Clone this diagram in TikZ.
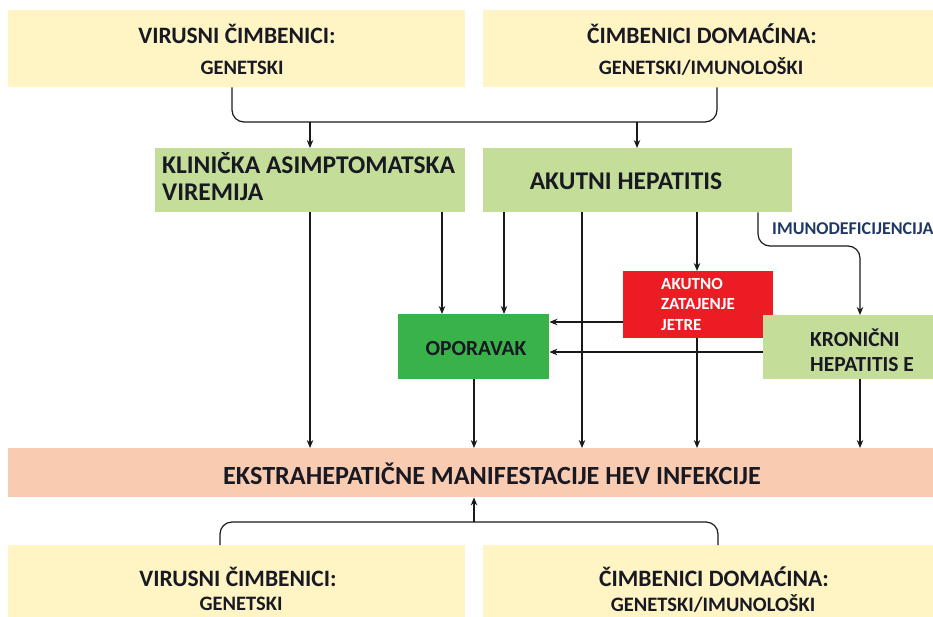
\documentclass[tikz,border=0pt]{standalone}
\usepackage{fontspec}
\setmainfont{Carlito}
\usetikzlibrary{arrows.meta}
\definecolor{boxyellow}{RGB}{255,245,196}
\definecolor{boxlgreen}{RGB}{196,222,154}
\definecolor{boxgreen}{RGB}{58,178,74}
\definecolor{boxred}{RGB}{236,28,36}
\definecolor{boxsalmon}{RGB}{249,204,178}
\definecolor{labnavy}{RGB}{31,56,100}
\definecolor{txt}{RGB}{25,25,35}
\begin{document}
\begin{tikzpicture}[x=1pt,y=-1pt,
  fbox/.style={draw=none,inner sep=0pt,anchor=north west},
  ttl/.style={font=\fontsize{23.5}{26}\selectfont\bfseries,inner sep=0pt,text=txt},
  sub/.style={font=\fontsize{20.5}{22}\selectfont\bfseries,inner sep=0pt,text=txt},
  lab/.style={font=\fontsize{25.5}{27}\selectfont\bfseries,inner sep=0pt,text=txt,align=left},
  conn/.style={line width=1.2pt,black!90},
  arr/.style={conn,-{Stealth[length=8pt,width=6.5pt]}},
]
\useasboundingbox (0,0) rectangle (933,616);
% top boxes
\node[fbox,fill=boxyellow,minimum width=457pt,minimum height=77pt] (vt) at (8,10) {};
\node[fbox,fill=boxyellow,minimum width=450pt,minimum height=77pt] (ht) at (483,10) {};
\node[ttl] (vtt) at (237,34) {VIRUSNI ČIMBENICI:};
\node[sub] (vts) at (242,68) {GENETSKI};
\node[ttl] (htt) at (702,34) {ČIMBENICI DOMAĆINA:};
\node[sub] (hts) at (701,67) {GENETSKI/IMUNOLOŠKI};
% middle row
\node[fbox,fill=boxlgreen,minimum width=310pt,minimum height=64pt] (kav) at (155,148) {};
\node[lab,anchor=west] (kavt) at (162,177) {KLINIČKA ASIMPTOMATSKA\\VIREMIJA};
\node[fbox,fill=boxlgreen,minimum width=309pt,minimum height=64pt] (ah) at (483,148) {};
\node[lab] (aht) at (626,181) {AKUTNI HEPATITIS};
% red box
\node[fbox,fill=boxred,minimum width=150pt,minimum height=67pt] (azj) at (623,271) {};
\node[anchor=west,inner sep=0pt,align=left,text=white,font=\fontsize{17}{20.5}\selectfont\bfseries] (azjt) at (661,304) {AKUTNO\\ZATAJENJE\\JETRE};
% oporavak
\node[fbox,fill=boxgreen,minimum width=151pt,minimum height=65pt] (op) at (398,314) {};
\node[lab,font=\fontsize{21.5}{24}\selectfont\bfseries] (opt) at (476,349) {OPORAVAK};
% kronicni
\node[fbox,fill=boxlgreen,minimum width=170pt,minimum height=64pt] (kr) at (763,315) {};
\node[lab,anchor=west,font=\fontsize{21.5}{25}\selectfont\bfseries] (krt) at (810,350) {KRONIČNI\\HEPATITIS E};
% label
\node[anchor=west,inner sep=0pt,text=labnavy,font=\fontsize{18}{19}\selectfont\bfseries] (imu) at (772,229) {IMUNODEFICIJENCIJA};
% ekstra
\node[fbox,fill=boxsalmon,minimum width=925pt,minimum height=49pt] (ek) at (8,448) {};
\node[lab,font=\fontsize{26.2}{28}\selectfont\bfseries] (ekt) at (492,474) {EKSTRAHEPATIČNE MANIFESTACIJE HEV INFEKCIJE};
% bottom boxes
\node[fbox,fill=boxyellow,minimum width=457pt,minimum height=80pt] (vb) at (8,545) {};
\node[fbox,fill=boxyellow,minimum width=450pt,minimum height=80pt] (hb) at (483,545) {};
\node[ttl] (vbt) at (238,577) {VIRUSNI ČIMBENICI:};
\node[sub] (vbs) at (241,604) {GENETSKI};
\node[ttl] (hbt) at (714,577) {ČIMBENICI DOMAĆINA:};
\node[sub] (hbs) at (713,604) {GENETSKI/IMUNOLOŠKI};
% column coordinates
\coordinate (c1) at (310,0);
\coordinate (c2) at (442,0);
\coordinate (c3) at (504,0);
\coordinate (c4) at (582,0);
\coordinate (c5) at (697,0);
\coordinate (c6) at (758,0);
\coordinate (c7) at (860,0);
\coordinate (c8) at (474,0);
\coordinate (ta) at (232,0);
\coordinate (tb) at (717,0);
\coordinate (ba) at (220,0);
\coordinate (bb) at (718,0);
\coordinate (r1) at (0,122);
\coordinate (r2) at (0,246);
\coordinate (r3) at (0,522);
\coordinate (r4) at (0,322);
\coordinate (r5) at (0,352);
\coordinate (ktop) at (637,0);
% top bracket
\draw[conn,rounded corners=12pt] (vt.south -| ta) -- (ta |- r1) -- (tb |- r1) -- (ht.south -| tb);
\draw[arr] (c1 |- r1) -- (kav.north -| c1);
\draw[arr] (ktop |- r1) -- (ah.north -| ktop);
% from klinicka
\draw[arr] (kav.south -| c1) -- (ek.north -| c1);
\draw[arr] (kav.south -| c2) -- (op.north -| c2);
% from akutni
\draw[arr] (ah.south -| c3) -- (op.north -| c3);
\draw[arr] (ah.south -| c4) -- (ek.north -| c4);
\draw[arr] (ah.south -| c5) -- (azj.north -| c5);
\draw[arr,rounded corners=12pt] (ah.south -| c6) -- (c6 |- r2) -- (c7 |- r2) -- (kr.north -| c7);
% to oporavak
\draw[arr] (azj.west |- r4) -- (op.east |- r4);
\draw[arr] (kr.west |- r5) -- (op.east |- r5);
% down to ekstra
\draw[arr] (azj.south -| c5) -- (ek.north -| c5);
\draw[arr] (op.south -| c8) -- (ek.north -| c8);
\draw[arr] (kr.south -| c7) -- (ek.north -| c7);
% bottom bracket
\draw[conn,rounded corners=12pt] (vb.north -| ba) -- (ba |- r3) -- (bb |- r3) -- (hb.north -| bb);
\draw[arr] (c8 |- r3) -- (ek.south -| c8);
\end{tikzpicture}
\end{document}
